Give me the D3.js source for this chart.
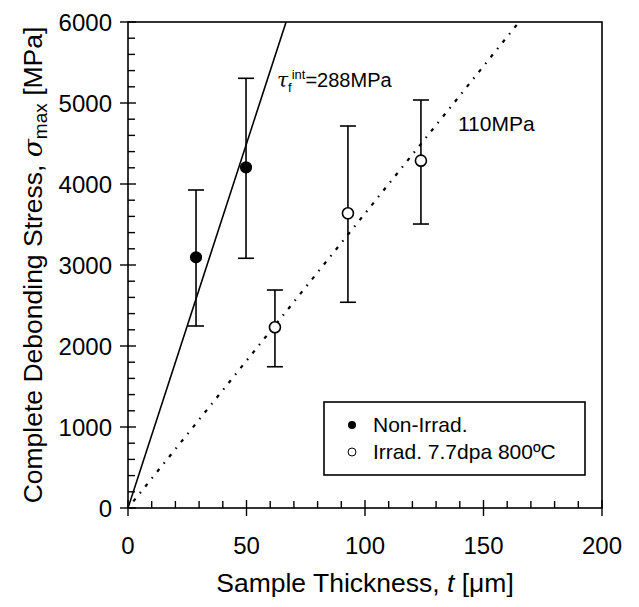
<!DOCTYPE html>
<html lang="en">
<head>
<meta charset="UTF-8">
<title>Debonding stress vs thickness</title>
<script src="https://cdn.jsdelivr.net/npm/d3@7/dist/d3.min.js"></script>
<style>
  body { margin: 0; background: #fff; }
  text { font-family: Arial, "Liberation Sans", sans-serif; fill: #000; }
</style>
</head>
<body>
<div id="container"></div>
<script>
// data
let nonIrrad = [
    {t: 28.7, s: 3095, lo: 2247, hi: 3926},
    {t: 49.8, s: 4206, lo: 3083, hi: 5305}
];
let irrad = [
    {t: 62.0,  s: 2231, lo: 1744, hi: 2691},
    {t: 92.8,  s: 3638, lo: 2540, hi: 4716},
    {t: 123.6, s: 4288, lo: 3506, hi: 5037}
];
// fitted lines through the origin
let fitSolid = [[0, 0], [66.7, 6000]];
let fitDotted = [[0, 0], [165, 6000]];
let xTicks = [0, 50, 100, 150, 200];
let yTicks = [0, 1000, 2000, 3000, 4000, 5000, 6000];

let W = 639, H = 607;
let pLeft = 128, pRight = 602, pTop = 22, pBottom = 508;

let svg = d3.select('#container').append('svg')
    .attr('width', W).attr('height', H);

let x = d3.scaleLinear().domain([0, 200]).range([pLeft, pRight]);
let y = d3.scaleLinear().domain([0, 6000]).range([pBottom, pTop]);

// frame
svg.append('rect')
    .attr('x', pLeft).attr('y', pTop)
    .attr('width', pRight - pLeft).attr('height', pBottom - pTop)
    .attr('fill', 'none').attr('stroke', '#000').attr('stroke-width', 1.6);

// ticks: major ones cross the axis, minor ones point inside
let g = svg.append('g').attr('stroke', '#000').attr('stroke-width', 1.4);
d3.range(0, 201, 10).forEach(v => {
    if (v % 50 === 0) {
        g.append('line').attr('x1', x(v)).attr('x2', x(v)).attr('y1', pBottom - 8).attr('y2', pBottom + 8);
    } else {
        g.append('line').attr('x1', x(v)).attr('x2', x(v)).attr('y1', pBottom - 7).attr('y2', pBottom);
    }
});
d3.range(0, 6001, 200).forEach(v => {
    if (v % 1000 === 0) {
        g.append('line').attr('x1', pLeft - 8).attr('x2', pLeft + 8).attr('y1', y(v)).attr('y2', y(v));
    } else {
        g.append('line').attr('x1', pLeft).attr('x2', pLeft + 7).attr('y1', y(v)).attr('y2', y(v));
    }
});

// tick labels
svg.selectAll('.xl').data(xTicks).enter().append('text')
    .attr('x', d => x(d)).attr('y', pBottom + 46)
    .attr('text-anchor', 'middle').attr('font-size', 24).text(d => d);
svg.selectAll('.yl').data(yTicks).enter().append('text')
    .attr('x', pLeft - 16).attr('y', d => y(d) + 8.5)
    .attr('text-anchor', 'end').attr('font-size', 24).text(d => d);

// axis titles
let xt = svg.append('text').attr('x', (pLeft + pRight) / 2).attr('y', 592)
    .attr('text-anchor', 'middle').attr('font-size', 26.5);
xt.append('tspan').text('Sample Thickness, ');
xt.append('tspan').attr('font-style', 'italic').text('t');
xt.append('tspan').text(' [\u03bcm]');

let yt = svg.append('text')
    .attr('transform', 'translate(42,' + (pTop + pBottom) / 2 + ') rotate(-90)')
    .attr('text-anchor', 'middle').attr('font-size', 26.5);
yt.append('tspan').text('Complete Debonding Stress, ');
yt.append('tspan').attr('font-style', 'italic').attr('font-family', '"DejaVu Serif", serif').text('\u03c3');
yt.append('tspan').attr('font-size', 19).attr('dy', 5).text('max');
yt.append('tspan').attr('dy', -5).text(' [MPa]');

// clip for fit lines
svg.append('clipPath').attr('id', 'clip').append('rect')
    .attr('x', pLeft).attr('y', pTop).attr('width', pRight - pLeft).attr('height', pBottom - pTop);

let line = d3.line().x(d => x(d[0])).y(d => y(d[1]));
svg.append('path').datum(fitSolid).attr('d', line).attr('clip-path', 'url(#clip)')
    .attr('fill', 'none').attr('stroke', '#000').attr('stroke-width', 1.6);
svg.append('path').datum(fitDotted).attr('d', line).attr('clip-path', 'url(#clip)')
    .attr('fill', 'none').attr('stroke', '#000').attr('stroke-width', 2.2)
    .attr('stroke-dasharray', '1.5,7,3.5,7');

// error bars
function errorBars(data) {
    let eg = svg.append('g').attr('stroke', '#000').attr('stroke-width', 1.6);
    data.forEach(d => {
        eg.append('line').attr('x1', x(d.t)).attr('x2', x(d.t)).attr('y1', y(d.lo)).attr('y2', y(d.hi));
        eg.append('line').attr('x1', x(d.t) - 8).attr('x2', x(d.t) + 8).attr('y1', y(d.lo)).attr('y2', y(d.lo));
        eg.append('line').attr('x1', x(d.t) - 8).attr('x2', x(d.t) + 8).attr('y1', y(d.hi)).attr('y2', y(d.hi));
    });
}
errorBars(nonIrrad);
errorBars(irrad);

svg.selectAll('.pf').data(nonIrrad).enter().append('circle')
    .attr('cx', d => x(d.t)).attr('cy', d => y(d.s)).attr('r', 5.5)
    .attr('fill', '#000').attr('stroke', '#000').attr('stroke-width', 1.2);
svg.selectAll('.po').data(irrad).enter().append('circle')
    .attr('cx', d => x(d.t)).attr('cy', d => y(d.s)).attr('r', 5.5)
    .attr('fill', '#fff').attr('stroke', '#000').attr('stroke-width', 1.6);

// line annotations
let a1 = svg.append('text').attr('x', 277).attr('y', 87).attr('font-size', 20);
a1.append('tspan').attr('font-style', 'italic').attr('font-family', '"DejaVu Serif", serif').text('\u03c4');
a1.append('tspan').attr('font-size', 13).attr('dy', 5).text('f');
a1.append('tspan').attr('font-size', 13).attr('dy', -13).text('int');
a1.append('tspan').attr('dy', 8).text('=288MPa');
svg.append('text').attr('x', 458).attr('y', 131).attr('font-size', 21).text('110MPa');

// legend
let lg = svg.append('g');
lg.append('rect').attr('x', 324).attr('y', 402).attr('width', 261).attr('height', 73)
    .attr('fill', '#fff').attr('stroke', '#000').attr('stroke-width', 1.6);
lg.append('circle').attr('cx', 352).attr('cy', 425).attr('r', 4).attr('fill', '#000');
lg.append('circle').attr('cx', 352).attr('cy', 452).attr('r', 4).attr('fill', '#fff')
    .attr('stroke', '#000').attr('stroke-width', 1);
lg.append('text').attr('x', 373).attr('y', 432).attr('font-size', 21).text('Non-Irrad.');
lg.append('text').attr('x', 373).attr('y', 459).attr('font-size', 21).text('Irrad. 7.7dpa 800\u00baC');
</script>
</body>
</html>
